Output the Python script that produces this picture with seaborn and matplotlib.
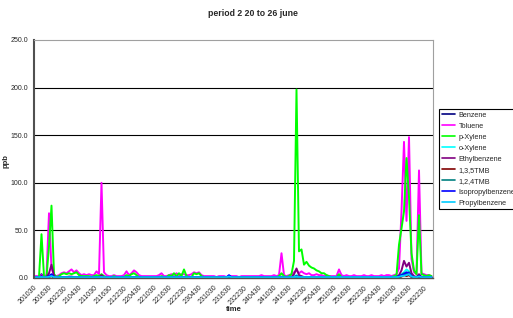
import pandas as pd
import matplotlib
matplotlib.use("Agg")
import matplotlib.pyplot as plt
import seaborn as sns

# hourly readings, starting 20 june 10:30
tick_labels = ["201030", "201630", "202230", "210430", "211030", "211630", "212230",
               "220430", "221030", "221630", "222230", "230430", "231030", "231630",
               "232230", "240430", "241030", "241630", "242230", "250430", "251030",
               "251630", "252230", "260430", "261030", "261630", "262230"]

benzene = [
    0.3, 0.3, 0.3, 4, 0.5, 0.3, 2, 3, 0.5, 0.3, 0.3, 0.4, 0.5, 0.4, 0.5, 0.5, 0.4, 0.4, 0.3, 0.3,
    0.3, 0.3, 0.3, 0.3, 0.3, 0.4, 0.3, 0.8, 0.4, 0.3, 0.3, 0.3, 0.3, 0.3, 0.3, 0.3, 0.3, 0.4, 0.3, 0.4,
    0.5, 0.4, 0.3, 0.3, 0.3, 0.3, 0.3, 0.3, 0.3, 0.3, 0.3, 0.3, 0.3, 0.3, 0.3, 0.3, 0.4, 0.3, 0.4, 0.3,
    0.5, 0.3, 0.3, 0.3, 0.4, 0.4, 0.4, 0.3, 0.3, 0.3, 0.3, 0.3, 0.3, 0.3, 0.3, 0.3, 0.3, 0.3, 0.3, 0.3,
    0.3, 0.3, 0.3, 0.3, 0.3, 0.3, 0.3, 0.3, 0.3, 0.3, 0.3, 0.3, 0.3, 0.3, 0.3, 0.3, 0.3, 0.3, 0.3, 0.6,
    0.3, 0.3, 0.3, 0.4, 0.8, 1.5, 0.6, 0.5, 0.4, 0.4, 0.4, 0.3, 0.3, 0.3, 0.3, 0.3, 0.3, 0.3, 0.3, 0.3,
    0.3, 0.3, 0.5, 0.3, 0.3, 0.3, 0.3, 0.3, 0.3, 0.3, 0.3, 0.3, 0.3, 0.3, 0.3, 0.3, 0.3, 0.3, 0.3, 0.3,
    0.3, 0.3, 0.3, 0.3, 0.3, 0.4, 1, 2, 4, 3, 5, 1.5, 0.6, 0.4, 2, 0.4, 0.3, 0.3, 0.3, 0.3]

toluene = [
    2, 2, 2, 3, 2, 3, 68, 10, 3, 2, 3, 5, 6, 5, 7, 9, 6, 8, 5, 3,
    4, 3, 4, 3, 3, 7, 4, 100, 6, 3, 2, 2, 3, 2, 2, 2, 3, 7, 3, 5,
    8, 6, 3, 2, 2, 2, 2, 2, 2, 2, 3, 5, 2, 2, 3, 4, 3, 5, 3, 4,
    4, 3, 3, 4, 6, 5, 6, 3, 2, 2, 2, 2, 2, 1, 2, 2, 2, 1, 2, 2,
    2, 2, 1, 2, 2, 2, 2, 2, 2, 2, 2, 3, 2, 2, 2, 2, 3, 2, 3, 26,
    3, 2, 3, 4, 6, 8, 5, 7, 5, 4, 5, 3, 3, 4, 3, 3, 2, 3, 2, 2,
    2, 2, 9, 3, 2, 3, 2, 2, 3, 2, 2, 2, 3, 2, 2, 3, 2, 2, 2, 3,
    2, 3, 3, 2, 3, 4, 10, 70, 143, 60, 148, 20, 6, 4, 113, 5, 4, 3, 3, 2]

p_xylene = [
    1, 1, 1, 46, 2, 1, 33, 76, 4, 1, 2, 4, 5, 4, 5, 4, 5, 6, 3, 2,
    2, 2, 2, 1, 2, 3, 2, 4, 2, 1, 1, 1, 2, 1, 1, 1, 1, 3, 2, 4,
    5, 3, 1, 1, 1, 1, 1, 1, 1, 1, 1, 2, 1, 1, 3, 2, 5, 2, 5, 2,
    9, 2, 1, 1, 5, 4, 5, 2, 1, 1, 1, 1, 1, 1, 1, 1, 1, 1, 1, 1,
    1, 1, 1, 1, 1, 1, 1, 1, 1, 1, 1, 1, 1, 1, 1, 1, 1, 1, 2, 5,
    2, 1, 2, 4, 18, 198, 28, 30, 14, 17, 13, 11, 10, 8, 7, 5, 5, 3, 2, 1,
    1, 1, 4, 1, 1, 1, 1, 1, 1, 1, 1, 1, 1, 1, 1, 1, 1, 1, 1, 1,
    1, 1, 1, 1, 2, 3, 35, 52, 70, 126, 85, 26, 8, 4, 66, 4, 3, 2, 3, 2]

o_xylene = [
    0.3, 0.3, 0.3, 1, 0.3, 0.3, 1.5, 3, 0.5, 0.3, 0.4, 0.5, 0.6, 0.5, 0.6, 0.6, 0.5, 0.5, 0.4, 0.3,
    0.3, 0.3, 0.3, 0.3, 0.3, 0.4, 0.3, 0.6, 0.3, 0.3, 0.3, 0.3, 0.3, 0.3, 0.3, 0.3, 0.3, 0.4, 0.3, 0.4,
    0.5, 0.4, 0.3, 0.3, 0.3, 0.3, 0.3, 0.3, 0.3, 0.3, 0.3, 0.3, 0.3, 0.3, 0.3, 0.3, 0.4, 0.3, 0.4, 0.3,
    0.6, 0.3, 0.3, 0.3, 0.4, 0.4, 0.4, 0.3, 0.3, 0.3, 0.3, 0.3, 0.3, 0.3, 0.3, 0.3, 0.3, 0.3, 0.3, 0.3,
    0.3, 0.3, 0.3, 0.3, 0.3, 0.3, 0.3, 0.3, 0.3, 0.3, 0.3, 0.3, 0.3, 0.3, 0.3, 0.3, 0.3, 0.3, 0.3, 0.5,
    0.3, 0.3, 0.3, 0.4, 1, 3, 1, 1, 0.6, 0.6, 0.5, 0.4, 0.4, 0.4, 0.3, 0.3, 0.3, 0.3, 0.3, 0.3,
    0.3, 0.3, 0.5, 0.3, 0.3, 0.3, 0.3, 0.3, 0.3, 0.3, 0.3, 0.3, 0.3, 0.3, 0.3, 0.3, 0.3, 0.3, 0.3, 0.3,
    0.3, 0.3, 0.3, 0.3, 0.3, 0.5, 2, 4, 6, 9, 7, 3, 1, 0.5, 3, 0.5, 0.4, 0.3, 0.3, 0.3]

ethylbenzene = [
    0.5, 0.5, 0.5, 2, 0.5, 1, 5, 14, 2, 0.5, 1, 1, 1, 1, 1.5, 1.5, 1, 1, 1, 0.5,
    0.5, 0.5, 0.5, 0.5, 0.5, 1, 0.5, 3, 1, 0.5, 0.5, 0.5, 0.5, 0.5, 0.5, 0.5, 0.5, 1, 0.5, 1,
    1, 1, 0.5, 0.5, 0.5, 0.5, 0.5, 0.5, 0.5, 0.5, 0.5, 0.8, 0.5, 0.5, 0.5, 0.5, 0.8, 0.5, 0.8, 0.5,
    1, 0.5, 0.5, 0.5, 0.8, 0.8, 0.8, 0.5, 0.5, 0.5, 0.5, 0.5, 0.5, 0.5, 0.5, 0.5, 0.5, 0.5, 0.5, 0.5,
    0.5, 0.5, 0.5, 0.5, 0.5, 0.5, 0.5, 0.5, 0.5, 0.5, 0.5, 0.5, 0.5, 0.5, 0.5, 0.5, 0.5, 0.5, 0.5, 1.5,
    0.5, 0.5, 0.5, 1, 4, 10, 3, 2, 1, 1, 1, 1, 0.5, 0.5, 0.5, 0.5, 0.5, 0.5, 0.5, 0.5,
    0.5, 0.5, 1.5, 0.5, 0.5, 0.5, 0.5, 0.5, 0.5, 0.5, 0.5, 0.5, 0.5, 0.5, 0.5, 0.5, 0.5, 0.5, 0.5, 0.5,
    0.5, 0.5, 0.5, 0.5, 0.5, 1, 3, 8, 18, 12, 16, 5, 2, 1, 4, 1, 0.5, 0.5, 0.5, 0.5]

tmb_135 = [
    0.2, 0.2, 0.2, 0.5, 0.2, 0.2, 1, 2, 0.3, 0.2, 0.2, 0.3, 0.3, 0.3, 0.3, 0.3, 0.3, 0.3, 0.2, 0.2,
    0.2, 0.2, 0.2, 0.2, 0.2, 0.2, 0.2, 0.4, 0.2, 0.2, 0.2, 0.2, 0.2, 0.2, 0.2, 0.2, 0.2, 0.2, 0.2, 0.2,
    0.3, 0.2, 0.2, 0.2, 0.2, 0.2, 0.2, 0.2, 0.2, 0.2, 0.2, 0.2, 0.2, 0.2, 0.2, 0.2, 0.2, 0.2, 0.2, 0.2,
    0.3, 0.2, 0.2, 0.2, 0.2, 0.2, 0.2, 0.2, 0.2, 0.2, 0.2, 0.2, 0.2, 0.2, 0.2, 0.2, 0.2, 0.2, 0.2, 0.2,
    0.2, 0.2, 0.2, 0.2, 0.2, 0.2, 0.2, 0.2, 0.2, 0.2, 0.2, 0.2, 0.2, 0.2, 0.2, 0.2, 0.2, 0.2, 0.2, 0.3,
    0.2, 0.2, 0.2, 0.2, 0.5, 1, 0.4, 0.3, 0.2, 0.2, 0.2, 0.2, 0.2, 0.2, 0.2, 0.2, 0.2, 0.2, 0.2, 0.2,
    0.2, 0.2, 0.3, 0.2, 0.2, 0.2, 0.2, 0.2, 0.2, 0.2, 0.2, 0.2, 0.2, 0.2, 0.2, 0.2, 0.2, 0.2, 0.2, 0.2,
    0.2, 0.2, 0.2, 0.2, 0.2, 0.3, 0.8, 1.5, 3, 2, 3, 1, 0.4, 0.3, 1, 0.3, 0.2, 0.2, 0.2, 0.2]

tmb_124 = [
    0.4, 0.4, 0.4, 1, 0.4, 0.4, 1.5, 3, 0.6, 0.4, 0.4, 0.5, 0.6, 0.5, 0.6, 0.6, 0.5, 0.5, 0.4, 0.4,
    0.4, 0.4, 0.4, 0.4, 0.4, 0.5, 0.4, 0.7, 0.4, 0.4, 0.4, 0.4, 0.4, 0.4, 0.4, 0.4, 0.4, 0.5, 0.4, 0.5,
    0.6, 0.5, 0.4, 0.4, 0.4, 0.4, 0.4, 0.4, 0.4, 0.4, 0.4, 0.4, 0.4, 0.4, 0.4, 0.4, 0.5, 0.4, 0.5, 0.4,
    0.6, 0.4, 0.4, 0.4, 0.5, 0.5, 0.5, 0.4, 0.4, 0.4, 0.4, 0.4, 0.4, 0.4, 0.4, 0.4, 0.4, 0.4, 0.4, 0.4,
    0.4, 0.4, 0.4, 0.4, 0.4, 0.4, 0.4, 0.4, 0.4, 0.4, 0.4, 0.4, 0.4, 0.4, 0.4, 0.4, 0.4, 0.4, 0.4, 0.5,
    0.4, 0.4, 0.4, 0.5, 1, 2, 0.8, 0.6, 0.5, 0.5, 0.5, 0.4, 0.4, 0.4, 0.4, 0.4, 0.4, 0.4, 0.4, 0.4,
    0.4, 0.4, 0.6, 0.4, 0.4, 0.4, 0.4, 0.4, 0.4, 0.4, 0.4, 0.4, 0.4, 0.4, 0.4, 0.4, 0.4, 0.4, 0.4, 0.4,
    0.4, 0.4, 0.4, 0.4, 0.4, 0.6, 1.5, 3, 5, 4, 6, 2, 0.8, 0.5, 2, 0.5, 0.4, 0.4, 0.4, 0.4]

isopropylbenzene = [
    0.8, 0.8, 0.8, 1.5, 0.8, 0.8, 2, 4, 1, 0.8, 0.8, 0.9, 1, 0.9, 1, 1, 0.9, 0.9, 0.8, 0.8,
    0.8, 0.8, 0.8, 0.8, 0.8, 0.9, 0.8, 1.2, 0.8, 0.8, 0.8, 0.8, 0.8, 0.8, 0.8, 0.8, 0.8, 0.9, 0.8, 0.9,
    1, 0.9, 0.8, 0.8, 0.8, 0.8, 0.8, 0.8, 0.8, 0.8, 0.8, 0.8, 0.8, 0.8, 0.8, 0.8, 0.9, 0.8, 0.9, 0.8,
    1, 0.8, 0.8, 0.8, 0.9, 0.9, 0.9, 0.8, 0.8, 0.8, 0.8, 0.8, 0.8, 0.8, 0.8, 0.8, 0.8, 0.8, 3, 0.8,
    0.8, 0.8, 0.8, 0.8, 0.8, 0.8, 0.8, 0.8, 0.8, 0.8, 0.8, 0.8, 0.8, 0.8, 0.8, 0.8, 0.8, 0.8, 0.8, 1,
    0.8, 0.8, 0.8, 0.9, 1.2, 1.5, 1, 1, 0.9, 0.9, 0.9, 0.8, 0.8, 0.8, 0.8, 0.8, 0.8, 0.8, 0.8, 0.8,
    0.8, 0.8, 1, 0.8, 0.8, 0.8, 0.8, 0.8, 0.8, 0.8, 0.8, 0.8, 0.8, 0.8, 0.8, 0.8, 0.8, 0.8, 0.8, 0.8,
    0.8, 0.8, 0.8, 0.8, 0.8, 1, 2, 3, 4, 6, 5, 2, 1, 0.9, 2, 0.9, 0.8, 0.8, 0.8, 0.8]

propylbenzene = [
    0.8, 0.8, 0.8, 1, 0.8, 0.8, 1.2, 2, 0.9, 0.8, 0.8, 0.8, 0.9, 0.8, 0.9, 0.9, 0.8, 0.8, 0.8, 0.8,
    0.8, 0.8, 0.8, 0.8, 0.8, 0.8, 0.8, 1, 0.8, 0.8, 0.8, 0.8, 0.8, 0.8, 0.8, 0.8, 0.8, 0.8, 0.8, 0.8,
    0.9, 0.8, 0.8, 0.8, 0.8, 0.8, 0.8, 0.8, 0.8, 0.8, 0.8, 0.8, 0.8, 0.8, 0.8, 0.8, 0.8, 0.8, 0.8, 0.8,
    0.9, 0.8, 0.8, 0.8, 0.8, 0.8, 0.8, 0.8, 0.8, 0.8, 0.8, 0.8, 0.8, 0.8, 0.8, 0.8, 0.8, 0.8, 1.5, 0.8,
    0.8, 0.8, 0.8, 0.8, 0.8, 0.8, 0.8, 0.8, 0.8, 0.8, 0.8, 0.8, 0.8, 0.8, 0.8, 0.8, 0.8, 0.8, 0.8, 0.9,
    0.8, 0.8, 0.8, 0.8, 1, 1.2, 0.9, 0.9, 0.8, 0.8, 0.8, 0.8, 0.8, 0.8, 0.8, 0.8, 0.8, 0.8, 0.8, 0.8,
    0.8, 0.8, 0.9, 0.8, 0.8, 0.8, 0.8, 0.8, 0.8, 0.8, 0.8, 0.8, 0.8, 0.8, 0.8, 0.8, 0.8, 0.8, 0.8, 0.8,
    0.8, 0.8, 0.8, 0.8, 0.8, 0.9, 1.2, 2, 2.5, 3, 4, 1.5, 0.9, 0.8, 1.5, 0.8, 0.8, 0.8, 0.8, 0.8]

series_names = ["Benzene", "Toluene", "p-Xylene", "o-Xylene", "Ethylbenzene",
                "1,3,5TMB", "1,2,4TMB", "Isopropylbenzene", "Propylbenzene"]
series_values = [benzene, toluene, p_xylene, o_xylene, ethylbenzene,
                 tmb_135, tmb_124, isopropylbenzene, propylbenzene]
colors = ["#000080", "#FF00FF", "#00FF00", "#00FFFF", "#800080",
          "#800000", "#008080", "#0000FF", "#00CCFF"]

frames = []
for name, vals in zip(series_names, series_values):
    frames.append(pd.DataFrame({"hour": range(len(vals)), "ppb": vals, "compound": name}))
df = pd.concat(frames, ignore_index=True)

sns.set_style("white")
plt.rcParams["font.family"] = ["Liberation Sans", "DejaVu Sans"]

fig = plt.figure(figsize=(5.13, 3.18), dpi=100)
ax = fig.add_axes([34 / 513, 1 - 278 / 318, (433 - 34) / 513, (278 - 40) / 318])

sns.lineplot(data=df, x="hour", y="ppb", hue="compound", hue_order=series_names,
             palette=colors, linewidth=1.4, errorbar=None, ax=ax)

ax.set_xlim(0, 159.6)
ax.set_ylim(0, 250)
ax.set_yticks([0, 50, 100, 150, 200, 250])
ax.set_yticklabels(["%.1f" % v for v in [0, 50, 100, 150, 200, 250]], fontsize=5)
ax.set_xticks(range(0, 6 * len(tick_labels), 6))
ax.set_xticklabels(tick_labels, fontsize=5, rotation=45, ha="right", rotation_mode="anchor")
ax.tick_params(axis="both", direction="out", length=2.5, width=0.6, color="#404040", pad=1.5)
ax.tick_params(axis="x", pad=2)

for v in [50, 100, 150, 200]:
    ax.axhline(v, color="black", linewidth=0.8, zorder=0)

ax.spines["left"].set_color("#505050")
ax.spines["left"].set_linewidth(1.5)
ax.spines["bottom"].set_color("#505050")
ax.spines["bottom"].set_linewidth(1)
ax.spines["top"].set_color("#a0a0a0")
ax.spines["right"].set_color("#a0a0a0")

ax.set_xlabel("time", fontsize=5.5, fontweight="bold", labelpad=0)
ax.set_ylabel("")
fig.text(6 / 513, 1 - 161 / 318, "ppb", fontsize=5.5, fontweight="bold",
         rotation=90, ha="center", va="center")
fig.text(0.493, 1 - 14 / 318, "period 2 20 to 26 june", fontsize=6.3, fontweight="bold",
         ha="center", va="center")

handles, labels = ax.get_legend_handles_labels()
leg = ax.legend(handles, labels, loc="upper left", bbox_to_anchor=(439 / 513, 1 - 109 / 318),
                bbox_transform=fig.transFigure, fontsize=5.2, frameon=True, fancybox=False,
                edgecolor="black", framealpha=1, handlelength=1.9, handletextpad=0.5,
                labelspacing=0.55, borderpad=0.35, borderaxespad=0)
leg.get_frame().set_linewidth(0.8)
for line in leg.get_lines():
    line.set_linewidth(1.2)

fig.savefig("out.png", dpi=100)
